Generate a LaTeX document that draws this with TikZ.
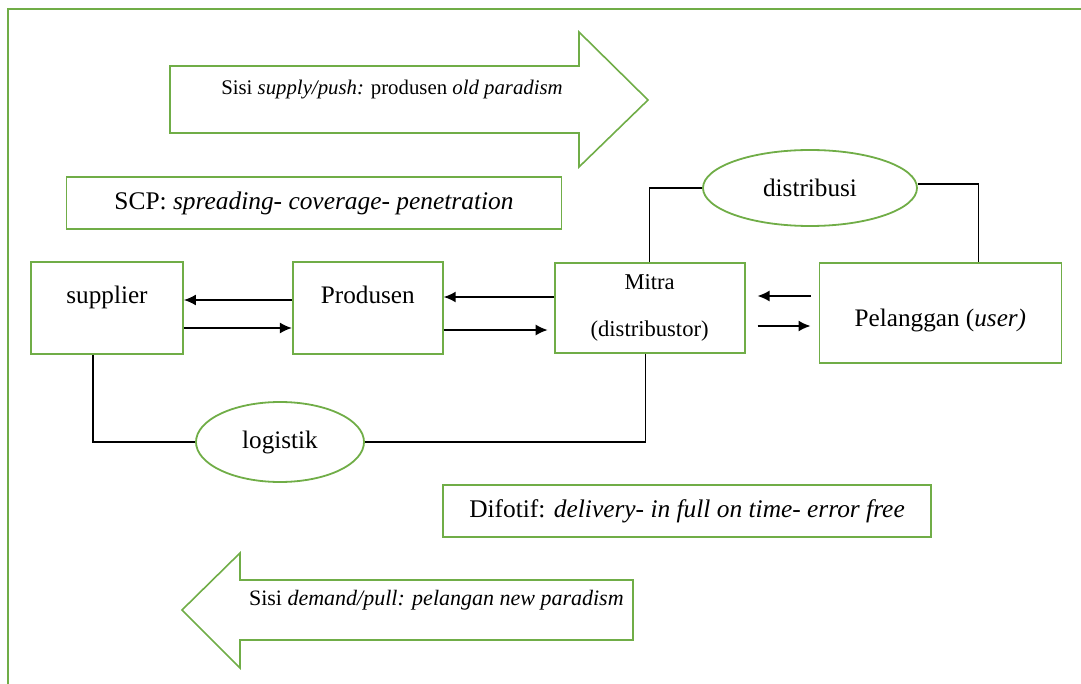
\documentclass[tikz,border=0pt]{standalone}
\usepackage{fontspec}
\setmainfont{Liberation Serif}
\usepackage{tikz}
\usetikzlibrary{arrows.meta, positioning, shapes}
\definecolor{wordgreen}{RGB}{112, 173, 71}

\begin{document}
\begin{tikzpicture}[x=0.5pt, y=-0.5pt, font=\fontsize{12.6}{15}\selectfont]
\tikzstyle{box} = [rectangle, draw=wordgreen, line width=0.9pt, inner sep=0pt, text centered]
\tikzstyle{oval} = [ellipse, draw=wordgreen, line width=0.9pt, inner sep=0pt]
\tikzstyle{bigarrow} = [draw=wordgreen, line width=0.8pt]
\tikzstyle{arrow} = [line width=0.8pt, -{Latex[length=6pt, width=5.5pt]}]
\tikzstyle{link} = [line width=0.8pt]

\useasboundingbox (0,0) rectangle (1081,684);
\draw [wordgreen, line width=1pt] (8,684) -- (8,9) -- (1081,9);

% push side
\draw [bigarrow] (170,66) -- (579,66) -- (579,32) -- (648,100) -- (579,167) -- (579,133) -- (170,133) -- cycle;
\node (push) at (392,90) {\fontsize{10.4}{12}\selectfont Sisi \textit{supply/push:} produsen \textit{old paradism}};

\node (scp) [box, minimum width=247.5pt, minimum height=26pt] at (314,203) {\fontsize{12.7}{15}\selectfont SCP: \textit{spreading- coverage- penetration}};

% chain
\node (supplier) [box, minimum width=76pt, minimum height=46pt, text height=8pt, text depth=13pt] at (107,308) {supplier};
\node (produsen) [box, right=54pt of supplier, minimum width=75pt, minimum height=46pt, text height=8pt, text depth=13pt] {Produsen};
\node (mitra) [box, right=55pt of produsen, minimum width=95pt, minimum height=45pt, align=center, font=\fontsize{11.3}{13.5}\selectfont] {Mitra\\[10pt](distribustor)};
\node (pelanggan) [box, right=36.5pt of mitra.north east, anchor=north west, minimum width=121pt, minimum height=50pt, text height=16pt, text depth=3pt] {Pelanggan (\textit{user)}};

\node (distribusi) [oval, minimum width=107pt, minimum height=38pt] at (810,188) {distribusi};
\node (logistik) [oval, minimum width=84pt, minimum height=40pt] at (280,442) {logistik};

\draw [arrow] ([yshift=4pt]produsen.west) -- ([yshift=4pt]produsen.west -| supplier.east);
\draw [arrow] ([yshift=-10pt]supplier.east) -- ([yshift=-10pt]supplier.east -| produsen.west);
\draw [arrow] ([yshift=5.5pt]mitra.west) -- ([yshift=5.5pt]mitra.west -| produsen.east);
\draw [arrow, shorten >=3pt] ([yshift=-11pt]produsen.east) -- ([yshift=-11pt]produsen.east -| mitra.west);
\draw [arrow, shorten <=4pt, shorten >=6pt] ([yshift=8.5pt]pelanggan.west) -- ([yshift=8.5pt]pelanggan.west -| mitra.east);
\draw [arrow, shorten <=6pt, shorten >=4pt] ([yshift=-6.5pt]pelanggan.west -| mitra.east) -- ([yshift=-6.5pt]pelanggan.west);

\draw [link] (mitra.north) |- (distribusi.west);
\draw [link] ([yshift=2pt]distribusi.east) -| ([xshift=19pt]pelanggan.north);
\draw [link] ([xshift=-7pt]supplier.south) |- (logistik.west);
\draw [link] (logistik.east) -| ([xshift=-2pt]mitra.south);

\node (difotif) [box, minimum width=244pt, minimum height=26pt] at (687,511) {\fontsize{12.7}{15}\selectfont Difotif: \textit{delivery- in full on time- error free}};

% pull side
\draw [bigarrow] (633,580) -- (240,580) -- (240,553) -- (182,610) -- (240,668) -- (240,640) -- (633,640) -- cycle;
\node (pull) [anchor=west] at (242,600) {\fontsize{11}{13}\selectfont Sisi \textit{demand/pull: pelangan new paradism}};
\end{tikzpicture}
\end{document}
